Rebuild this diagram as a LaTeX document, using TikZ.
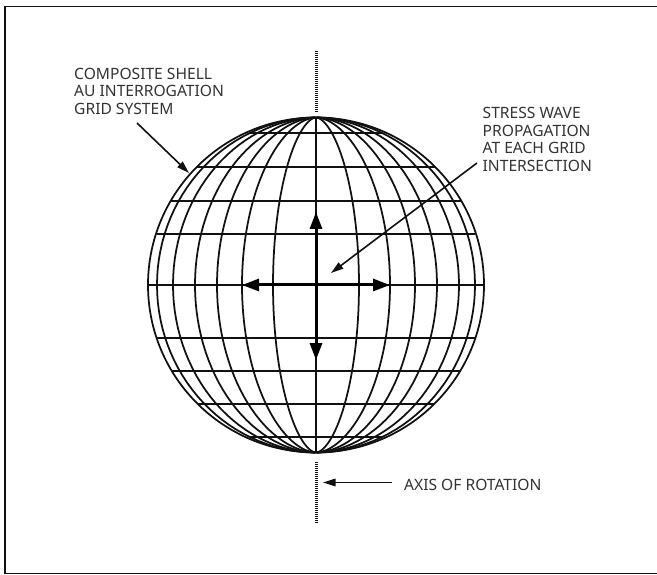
\documentclass[tikz,border=0pt]{standalone}
\usepackage{fontspec}
\setmainfont{Noto Sans}
\usetikzlibrary{arrows.meta,positioning}
\definecolor{ShellBlack}{HTML}{111111}
\definecolor{LabelGrey}{HTML}{333333}
\tikzset{
  x=1pt,y=-1pt,
  shellline/.style={line width=1.75pt,draw=ShellBlack,line join=round},
  leader/.style={-{Triangle[length=12.5pt,width=7.5pt]},line width=1.6pt,draw=ShellBlack},
  wavearrow/.style={{Triangle[length=17pt,width=12pt]}-{Triangle[length=17pt,width=12pt]},line width=3pt,draw=black},
  axisline/.style={line width=3pt,draw=ShellBlack,dash pattern=on 1.2pt off 0.8pt},
  label/.style={align=left,anchor=north west,inner sep=0pt,font=\fontsize{15.6pt}{17.5pt}\selectfont,text=LabelGrey}
}
\begin{document}
\begin{tikzpicture}
  \useasboundingbox (0,0) rectangle (657,575);
  \draw[line width=1.9pt,draw=ShellBlack] (657,6.5) -- (5,6.5) -- (5,573.5) -- (657,573.5);
  % sphere
  \coordinate (centre) at (316,285);
  \foreach \off in {159,143,121,99,74,43}{
    \pgfmathsetmacro{\bulge}{2*(0.5+0.1*(1-\off/168))}
    \draw[shellline] plot[domain=-89.6:89.6,samples=61] ({316+\off*cos(\x)^\bulge},{285+167.5*sin(\x)});
    \draw[shellline] plot[domain=-89.6:89.6,samples=61] ({316-\off*cos(\x)^\bulge},{285+167.5*sin(\x)});
  }
  \draw[shellline] (centre) ellipse[x radius=168,y radius=167.5];
  \coordinate (north) at (316,117.5);
  \coordinate (south) at (316,452.5);
  \draw[shellline] (north) -- (south);
  \foreach \off/\half in {-152/66,-118/119,-84/145,-51/159,0/168,53/159,86/144,119/118,152/66}{
    \draw[shellline] (316-\half,285+\off) -- (316+\half,285+\off);
  }
  % stress waves
  \coordinate (wavetop) at (316,212);
  \coordinate (wavebottom) at (316,360);
  \coordinate (waveleft) at (242,285);
  \coordinate (waveright) at (390,285);
  \draw[wavearrow] (wavetop) -- (wavebottom);
  \draw[wavearrow] (waveleft) -- (waveright);
  % axis
  \coordinate (axisa) at (316,51);
  \coordinate (axisb) at (316,112);
  \coordinate (axisc) at (316,462);
  \coordinate (axisd) at (316,523);
  \draw[axisline] (axisa) -- (axisb);
  \draw[axisline] (axisc) -- (axisd);
  % labels
  \node[label] (shell) at (74,67.5) {COMPOSITE SHELL\\AU INTERROGATION\\GRID SYSTEM};
  \node[label] (stress) at (482.5,107.5) {STRESS WAVE\\PROPAGATION\\AT EACH GRID\\INTERSECTION};
  \node[label] (axislabel) at (404,478.5) {AXIS OF ROTATION};
  \coordinate (shellfrom) at (137,123);
  \coordinate (shellto) at (189,173);
  \coordinate (stressfrom) at (477,163);
  \coordinate (stressto) at (331,273);
  \coordinate (axisfrom) at (392,482.5);
  \coordinate (axisto) at (323,482.5);
  \draw[leader] (shellfrom) -- (shellto);
  \draw[leader] (stressfrom) -- (stressto);
  \draw[leader] (axisfrom) -- (axisto);
\end{tikzpicture}
\end{document}
